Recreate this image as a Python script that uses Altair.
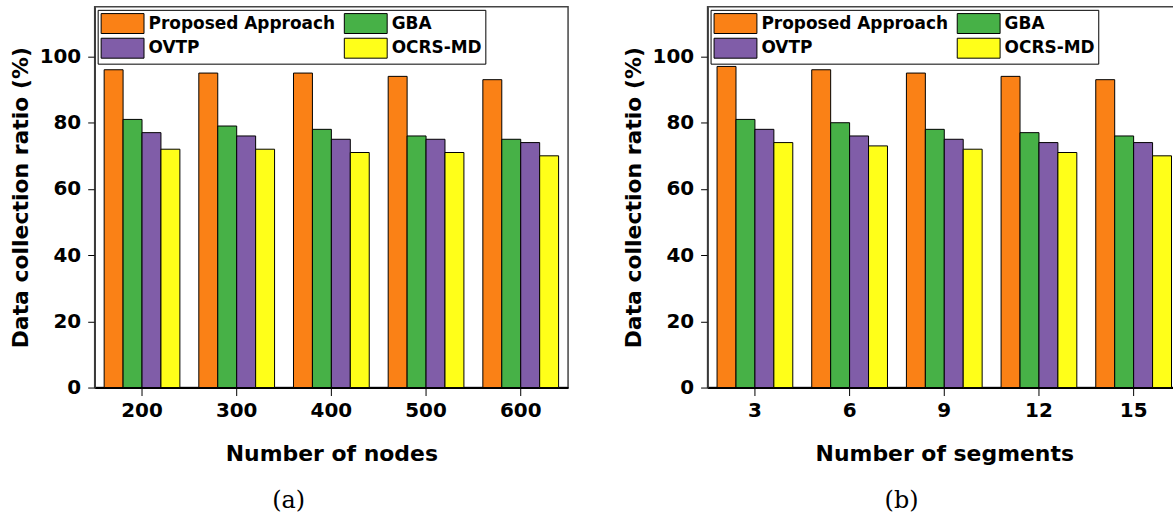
import altair as alt
import pandas as pd

# Series names and their bar colours
methods = ["Proposed Approach", "GBA", "OVTP", "OCRS-MD"]
colors = ["#FA8116", "#47B147", "#805DA8", "#FFFF19"]
# Legend entries are laid out column by column, so list them in that order
legend_order = ["Proposed Approach", "OVTP", "GBA", "OCRS-MD"]

# Panel (a): data collection ratio vs. number of nodes
nodes = ["200", "300", "400", "500", "600"]
nodes_proposed = [96, 95, 95, 94, 93]
nodes_gba = [81, 79, 78, 76, 75]
nodes_ovtp = [77, 76, 75, 75, 74]
nodes_ocrs = [72, 72, 71, 71, 70]

# Panel (b): data collection ratio vs. number of segments
segments = ["3", "6", "9", "12", "15"]
seg_proposed = [97, 96, 95, 94, 93]
seg_gba = [81, 80, 78, 77, 76]
seg_ovtp = [78, 76, 75, 74, 74]
seg_ocrs = [74, 73, 72, 71, 70]

y_ticks = [0, 20, 40, 60, 80, 100]

SANS = "DejaVu Sans"


def long_table(cats, series):
    rows = []
    for name, vals in zip(methods, series):
        for c, v in zip(cats, vals):
            rows.append({"cat": c, "method": name, "value": v})
    return pd.DataFrame(rows)


def panel(cats, series, x_title, caption):
    df = long_table(cats, series)
    return (
        alt.Chart(
            df,
            title=alt.TitleParams(
                caption, orient="bottom", anchor="middle", frame="bounds", offset=25
            ),
        )
        .mark_bar(stroke="black", strokeWidth=1, opacity=1)
        .encode(
            x=alt.X(
                "cat:N",
                sort=cats,
                title=x_title,
                scale=alt.Scale(paddingInner=0.2, paddingOuter=0.1),
                axis=alt.Axis(
                    labelAngle=0,
                    tickSize=8,
                    labelPadding=5,
                    titlePadding=23,
                    domainColor="black",
                    domainWidth=2,
                ),
            ),
            xOffset=alt.XOffset(
                "method:N", sort=methods, scale=alt.Scale(paddingInner=0, paddingOuter=0)
            ),
            y=alt.Y(
                "value:Q",
                scale=alt.Scale(domain=[0, 115], nice=False),
                axis=alt.Axis(
                    values=y_ticks,
                    title="Data collection ratio (%)",
                    tickSize=7,
                    labelPadding=7,
                    titlePadding=7,
                    domainColor="#333333",
                    domainWidth=1.5,
                ),
            ),
            color=alt.Color(
                "method:N",
                sort=methods,
                scale=alt.Scale(domain=methods, range=colors),
                legend=alt.Legend(title=None, values=legend_order),
            ),
        )
        .properties(width=475, height=382)
    )


left = panel(nodes, [nodes_proposed, nodes_gba, nodes_ovtp, nodes_ocrs],
             "Number of nodes", "(a)")
right = panel(segments, [seg_proposed, seg_gba, seg_ovtp, seg_ocrs],
              "Number of segments", "(b)")

chart = (
    alt.hconcat(left, right, spacing=52)
    .resolve_legend(color="independent")
    .properties(padding={"left": 8, "top": 5, "right": -9, "bottom": 0})
    .configure_view(stroke="#444444", strokeWidth=1.5)
    .configure_axis(
        grid=False,
        labelFont=SANS,
        labelFontWeight="bold",
        labelFontSize=20,
        labelColor="black",
        titleFont=SANS,
        titleFontWeight="bold",
        titleFontSize=22,
        titleColor="black",
        tickColor="black",
        tickWidth=1,
    )
    .configure_legend(
        orient="top-left",
        offset=3,
        columns=2,
        padding=3,
        strokeColor="black",
        fillColor="white",
        # wide rectangular swatch; unit path scaled by sqrt(size)/2 = 10
        symbolType="M-2.15,-1H2.15V1H-2.15Z",
        symbolSize=400,
        symbolOffset=11.5,
        symbolStrokeColor="black",
        symbolStrokeWidth=1,
        symbolOpacity=1,
        labelFont=SANS,
        labelFontSize=17,
        labelFontWeight="bold",
        labelColor="black",
        labelOffset=15.5,
        labelLimit=400,
        rowPadding=0,
        columnPadding=6,
    )
    .configure_title(font="DejaVu Serif", fontSize=24, fontWeight="normal", color="black")
)

chart.save("out.html", embed_options={"renderer": "svg", "actions": False})
